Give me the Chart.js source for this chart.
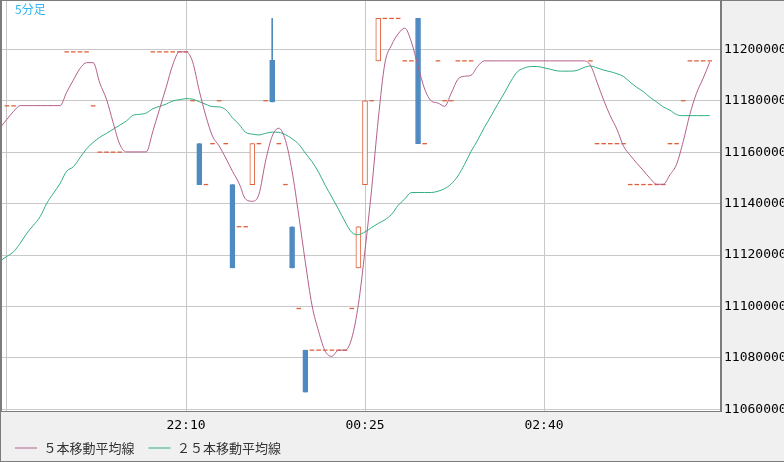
<!DOCTYPE html>
<html><head><meta charset="utf-8">
<script src="https://cdn.jsdelivr.net/npm/chart.js@4"></script>
<style>html,body{margin:0;padding:0;background:#f0f0f0;}canvas{display:block;}</style>
</head><body>
<canvas id="c" width="784" height="462"></canvas>
<script>
const _ = null;
// 5-minute slots starting 19:50
const times = [];
for (let i = 0; i < 108; i++) {
  const m = (19 * 60 + 50 + 5 * i) % 1440;
  times.push(String(Math.floor(m / 60)).padStart(2, '0') + ':' + String(m % 60).padStart(2, '0'));
}
const xTickSlots = [1, 28, 55, 82];
const xTickLabels = ['', '22:10', '00:25', '02:40'];
const yTicks = [11060000, 11080000, 11100000, 11120000, 11140000, 11160000, 11180000, 11200000];
const titleText = '5分足';
const seriesNames = ['５本移動平均線', '２５本移動平均線'];

const closes = [
 _,11178000,11178000,_,_,_,_,_,_,_,
 11199000,11199000,11199000,11199000,11178000,11160000,11160000,11160000,11160000,_,
 _,_,_,11199000,11199000,11199000,11199000,11199000,11199000,11180000,
 11147400,11147400,11163300,11180000,11163300,11115000,11131000,11131000,11163300,11163300,
 11180000,11179500,11163300,11147400,11115000,11099200,11066700,11083000,11083000,11083000,
 11083000,11083000,11083000,11099200,11131000,11180000,11180000,11212000,11212000,11212000,
 11212000,11195500,11195500,11163300,11163300,_,11195500,11180000,11180000,11195500,
 11195500,11195500,_,_,_,_,_,_,_,_,
 _,_,_,_,_,_,_,_,_,11195500,
 11163300,11163300,11163300,11163300,11163300,11147400,11147400,11147400,11147400,11147400,
 11147400,11163300,11163300,11180000,11195500,11195500,11195500,11195500
];
const opens = [
 _,11178000,11178000,_,_,_,_,_,_,_,
 11199000,11199000,11199000,11199000,11178000,11160000,11160000,11160000,11160000,_,
 _,_,_,11199000,11199000,11199000,11199000,11199000,11199000,11180000,
 11163300,11147400,11163300,11180000,11163300,11147400,11131000,11131000,11147400,11163300,
 11180000,11195700,11163300,11147400,11131000,11099200,11083000,11083000,11083000,11083000,
 11083000,11083000,11083000,11099200,11115000,11147400,11180000,11195500,11212000,11212000,
 11212000,11195500,11195500,11212000,11163300,_,11195500,11180000,11180000,11195500,
 11195500,11195500,_,_,_,_,_,_,_,_,
 _,_,_,_,_,_,_,_,_,11195500,
 11163300,11163300,11163300,11163300,11163300,11147400,11147400,11147400,11147400,11147400,
 11147400,11163300,11163300,11180000,11195500,11195500,11195500,11195500
];
const highs = [
 _,11178000,11178000,_,_,_,_,_,_,_,
 11199000,11199000,11199000,11199000,11178000,11160000,11160000,11160000,11160000,_,
 _,_,_,11199000,11199000,11199000,11199000,11199000,11199000,11180000,
 11163300,11147400,11163300,11180000,11163300,11147400,11131000,11131000,11163300,11163300,
 11180000,11212000,11163300,11147400,11131000,11099200,11083000,11083000,11083000,11083000,
 11083000,11083000,11083000,11099200,11131000,11180000,11180000,11212000,11212000,11212000,
 11212000,11195500,11195500,11212000,11163300,_,11195500,11180000,11180000,11195500,
 11195500,11195500,_,_,_,_,_,_,_,_,
 _,_,_,_,_,_,_,_,_,11195500,
 11163300,11163300,11163300,11163300,11163300,11147400,11147400,11147400,11147400,11147400,
 11147400,11163300,11163300,11180000,11195500,11195500,11195500,11195500
];
const lows = [
 _,11178000,11178000,_,_,_,_,_,_,_,
 11199000,11199000,11199000,11199000,11178000,11160000,11160000,11160000,11160000,_,
 _,_,_,11199000,11199000,11199000,11199000,11199000,11199000,11180000,
 11147400,11147400,11163300,11180000,11163300,11115000,11131000,11131000,11147400,11163300,
 11180000,11179500,11163300,11147400,11115000,11099200,11066700,11083000,11083000,11083000,
 11083000,11083000,11083000,11099200,11115000,11147400,11180000,11195500,11212000,11212000,
 11212000,11195500,11195500,11163300,11163300,_,11195500,11180000,11180000,11195500,
 11195500,11195500,_,_,_,_,_,_,_,_,
 _,_,_,_,_,_,_,_,_,11195500,
 11163300,11163300,11163300,11163300,11163300,11147400,11147400,11147400,11147400,11147400,
 11147400,11163300,11163300,11180000,11195500,11195500,11195500,11195500
];
const ma5 = [
 11169700,11172800,11175900,11178100,11178100,11178100,11178100,11178100,11178100,11178100,
 11183300,11188000,11192500,11194800,11194800,11186800,11180600,11171600,11163100,11160100,
 11160100,11160100,11160100,11168100,11176700,11185200,11193900,11199000,11199000,11195100,
 11183900,11174000,11166200,11162400,11157700,11152600,11147900,11141700,11140900,11143600,
 11156500,11166200,11169300,11164600,11152600,11135500,11117200,11100500,11090300,11082600,
 11080600,11083000,11083000,11087600,11100800,11121800,11145600,11172800,11194600,11201600,
 11206000,11208200,11202800,11193400,11184500,11179900,11179100,11177800,11182900,11188300,
 11189500,11189900,11193400,11195500,11195500,11195500,11195500,11195500,11195500,11195500,
 11195500,11195500,11195500,11195500,11195500,11195500,11195500,11195500,11195500,11193800,
 11187200,11180200,11174100,11168900,11162300,11158800,11155700,11152800,11149800,11147500,
 11147500,11151200,11155300,11164200,11174700,11182900,11188700,11195000
];
const ma25 = [
 11117800,11119500,11121300,11124600,11128500,11131600,11134900,11140100,11144000,11147800,
 11152600,11154300,11157800,11161300,11163800,11165800,11167300,11168900,11170500,11172100,
 11174300,11174700,11175200,11176900,11177800,11178700,11179900,11180400,11180800,11180600,
 11179600,11178600,11177700,11177600,11176500,11173400,11170800,11167700,11167000,11166700,
 11167300,11167800,11167700,11166800,11165200,11163100,11159600,11156300,11152200,11147100,
 11142500,11137800,11132900,11128800,11127900,11129000,11130700,11132300,11133700,11135800,
 11139300,11141800,11144300,11144300,11144300,11144300,11144800,11145800,11147600,11150700,
 11155200,11160300,11164700,11169600,11174000,11178600,11182900,11187600,11191300,11192700,
 11193300,11193300,11192800,11192200,11191600,11191500,11191500,11191800,11192900,11193500,
 11192800,11191900,11191300,11190500,11189400,11187200,11185200,11183500,11181300,11179500,
 11177600,11176300,11174600,11174200,11174200,11174200,11174200,11174200
];

const BLUE = '#4f8ac0', ORANGE = '#e0603c', PINK = '#b4608c', GREEN = '#30b080';
const GRID = '#c8c8c8', FRAME = '#7c7c7c';

const dojiData = [], bodyData = [], wickData = [];
closes.forEach((c, i) => {
  if (c === null) return;
  if (opens[i] === c) { dojiData.push({ x: i, y: c }); return; }
  const up = c > opens[i];
  bodyData.push({ x: i, y: [opens[i], c], up });
  wickData.push({ x: i, y: [lows[i], highs[i]], up });
});

const framePlugin = {
  id: 'frame',
  afterLayout(chart) {
    const lg = chart.legend;
    if (lg) { const h = lg.bottom - lg.top; lg.top = 427.5; lg.bottom = lg.top + h; }
  },
  beforeDraw(chart) {
    const { ctx, chartArea: a } = chart;
    ctx.save();
    ctx.fillStyle = '#f0f0f0';
    ctx.fillRect(0, 0, chart.width, chart.height);
    ctx.fillStyle = '#ffffff';
    ctx.fillRect(a.left, a.top, a.right - a.left, a.bottom - a.top);
    ctx.restore();
  },
  afterDraw(chart) {
    const { ctx, chartArea: a } = chart;
    ctx.save();
    ctx.fillStyle = FRAME;
    ctx.fillRect(0, 0, 2, a.bottom + 1);
    ctx.fillRect(0, 0, chart.width, 1);
    ctx.fillRect(a.right, 0, 2, a.bottom + 1);
    ctx.fillRect(0, a.bottom, a.right + 2, 1);
    ctx.fillRect(0, chart.height - 1, chart.width, 1);
    ctx.fillRect(0, 0, 1, chart.height);
    ctx.fillStyle = '#33b5ee';
    ctx.font = '12px "Noto Sans CJK JP"';
    ctx.textBaseline = 'top';
    ctx.fillText(titleText, 15, 3);
    ctx.restore();
  }
};

const monoFont = { family: '"DejaVu Sans Mono", monospace', size: 13 };
const noPad = s => { s.paddingLeft = 0; s.paddingRight = 0; s.paddingTop = 0; s.paddingBottom = 0; };

new Chart(document.getElementById('c'), {
  type: 'bar',
  data: {
    datasets: [
      { type: 'line', label: seriesNames[0], data: ma5.map((v, i) => ({ x: i, y: v })),
        borderColor: PINK, backgroundColor: PINK, borderWidth: 1, pointRadius: 0,
        cubicInterpolationMode: 'monotone', order: 0 },
      { type: 'line', label: seriesNames[1], data: ma25.map((v, i) => ({ x: i, y: v })),
        borderColor: GREEN, backgroundColor: GREEN, borderWidth: 1, pointRadius: 0,
        cubicInterpolationMode: 'monotone', order: 1 },
      { type: 'line', label: 'doji', data: dojiData, showLine: false,
        pointStyle: 'line', pointRadius: 2.3, pointBorderWidth: 1.3,
        pointBorderColor: ORANGE, pointBackgroundColor: ORANGE, order: 2 },
      { type: 'bar', label: 'body', data: bodyData, barThickness: 5, grouped: false,
        borderWidth: 1, borderSkipped: false,
        borderColor: c => (c.raw && c.raw.up) ? ORANGE : BLUE,
        backgroundColor: c => (c.raw && c.raw.up) ? '#ffffff' : BLUE, order: 3 },
      { type: 'bar', label: 'wick', data: wickData, barThickness: 1, grouped: false,
        borderWidth: 0, backgroundColor: c => (c.raw && c.raw.up) ? ORANGE : BLUE, order: 4 }
    ]
  },
  options: {
    responsive: false,
    animation: false,
    devicePixelRatio: 1,
    events: [],
    layout: { autoPadding: false, padding: { left: 1, top: 1, right: 0, bottom: -10 } },
    scales: {
      x: {
        type: 'linear', min: 0.095, max: 108.545, offset: false,
        grid: { color: GRID, lineWidth: 1, drawTicks: false, offset: false },
        border: { display: false },
        ticks: { padding: 7, font: monoFont, color: '#000', maxRotation: 0, autoSkip: false,
          callback: v => { const k = xTickSlots.indexOf(v); return k >= 0 ? xTickLabels[k] : ''; } },
        afterBuildTicks: s => { s.ticks = xTickSlots.map(v => ({ value: v })); },
        afterFit: s => { s.height = 24; noPad(s); }
      },
      y: {
        type: 'linear', position: 'right', min: 11059340, max: 11218780, beginAtZero: false,
        grid: { color: GRID, lineWidth: 1, drawTicks: false },
        border: { display: false },
        ticks: { padding: 4, font: monoFont, color: '#000', callback: v => String(v) },
        afterBuildTicks: s => { s.ticks = yTicks.map(v => ({ value: v })); },
        afterFit: s => { s.width = 64; noPad(s); }
      }
    },
    plugins: {
      tooltip: { enabled: false },
      legend: {
        position: 'bottom', align: 'start',
        labels: {
          filter: item => item.datasetIndex < 2,
          usePointStyle: true, pointStyle: 'line', pointStyleWidth: 22,
          padding: 14, color: '#333',
          font: { family: '"Noto Sans CJK JP"', size: 13 }
        }
      }
    }
  },
  plugins: [framePlugin]
});
</script>
</body></html>
